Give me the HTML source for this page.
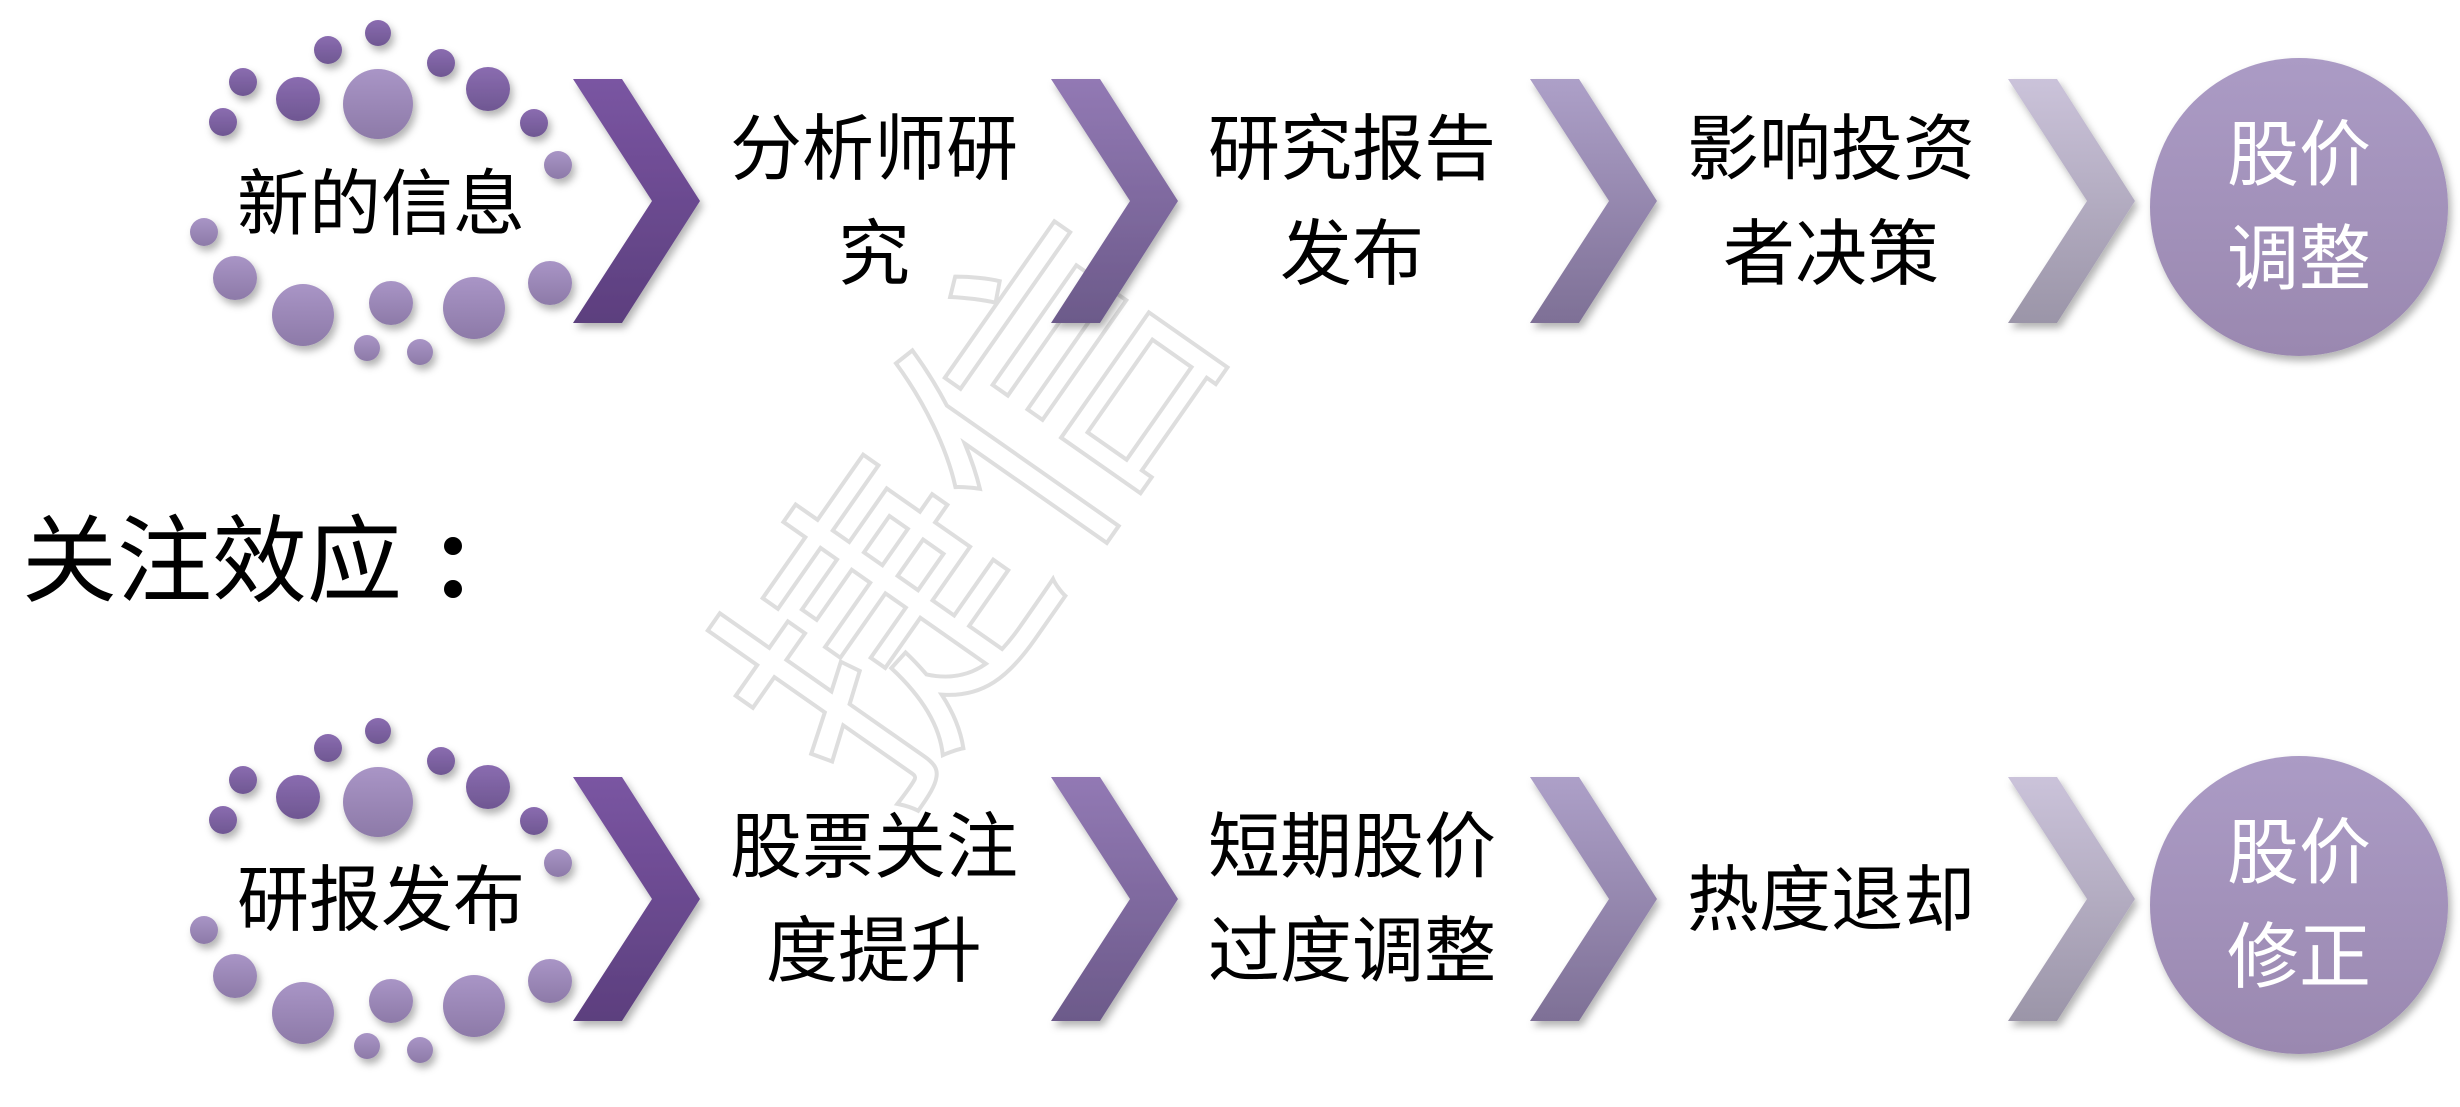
<!DOCTYPE html>
<html><head><meta charset="utf-8"><style>
html,body{margin:0;padding:0;background:#fff;}
svg{display:block}
text{font-family:"Liberation Sans","Noto Sans CJK SC",sans-serif;}
</style></head><body>
<svg width="2460" height="1107" viewBox="0 0 2460 1107" xmlns="http://www.w3.org/2000/svg">
<defs>
<linearGradient id="c1" x1="0" y1="0" x2="0" y2="1"><stop offset="0" stop-color="#7a55a2"/><stop offset="1" stop-color="#5c3f7e"/></linearGradient>
<linearGradient id="c2" x1="0" y1="0" x2="0" y2="1"><stop offset="0" stop-color="#9279b4"/><stop offset="1" stop-color="#6c5a8a"/></linearGradient>
<linearGradient id="c3" x1="0" y1="0" x2="0" y2="1"><stop offset="0" stop-color="#ada0c8"/><stop offset="1" stop-color="#7e7096"/></linearGradient>
<linearGradient id="c4" x1="0" y1="0" x2="0" y2="1"><stop offset="0" stop-color="#cbc3da"/><stop offset="1" stop-color="#9b95a8"/></linearGradient>
<linearGradient id="cc" x1="0" y1="0" x2="0" y2="1"><stop offset="0" stop-color="#ab9bc5"/><stop offset="1" stop-color="#9a88b0"/></linearGradient>
<linearGradient id="dd" x1="0" y1="0" x2="0" y2="1"><stop offset="0" stop-color="#8a6cb0"/><stop offset="1" stop-color="#6f5792"/></linearGradient>
<linearGradient id="dl" x1="0" y1="0" x2="0" y2="1"><stop offset="0" stop-color="#a995c6"/><stop offset="1" stop-color="#8d7aa8"/></linearGradient>
<filter id="sh" x="-20%" y="-20%" width="140%" height="140%"><feDropShadow dx="3" dy="5" stdDeviation="4" flood-color="#000" flood-opacity="0.3"/></filter>
<g id="dots" filter="url(#sh)">
<circle cx="378" cy="33" r="13" fill="url(#dd)"/>
<circle cx="328" cy="50" r="14" fill="url(#dd)"/>
<circle cx="243" cy="82" r="14" fill="url(#dd)"/>
<circle cx="441" cy="63" r="14" fill="url(#dd)"/>
<circle cx="298" cy="99" r="22" fill="url(#dd)"/>
<circle cx="378" cy="104" r="35" fill="url(#dl)"/>
<circle cx="488" cy="89" r="22" fill="url(#dd)"/>
<circle cx="223" cy="122" r="14" fill="url(#dd)"/>
<circle cx="534" cy="123" r="14" fill="url(#dd)"/>
<circle cx="558" cy="165" r="14" fill="url(#dl)"/>
<circle cx="204" cy="232" r="14" fill="url(#dl)"/>
<circle cx="235" cy="278" r="22" fill="url(#dl)"/>
<circle cx="303" cy="315" r="31" fill="url(#dl)"/>
<circle cx="391" cy="303" r="22" fill="url(#dl)"/>
<circle cx="474" cy="308" r="31" fill="url(#dl)"/>
<circle cx="550" cy="283" r="22" fill="url(#dl)"/>
<circle cx="367" cy="348" r="13" fill="url(#dl)"/>
<circle cx="420" cy="352" r="13" fill="url(#dl)"/>
</g>
<path id="chev" d="M0,0 L49,0 L127,122 L49,244 L0,244 L79,122 Z"/>
</defs>

<text x="1000" y="600" font-size="300" text-anchor="middle" fill="none" stroke="#dedede" stroke-width="4" font-family="Noto Serif CJK SC, serif" transform="rotate(-55 1000 530)">捷信</text>

<!-- Row 1 -->
<use href="#dots"/>
<text x="381" y="229" font-size="72" text-anchor="middle" fill="#000">新的信息</text>
<g filter="url(#sh)">
<use href="#chev" x="573" y="79" fill="url(#c1)"/>
<use href="#chev" x="1051" y="79" fill="url(#c2)"/>
<use href="#chev" x="1530" y="79" fill="url(#c3)"/>
<use href="#chev" x="2008" y="79" fill="url(#c4)"/>
<circle cx="2299" cy="207" r="149" fill="url(#cc)"/>
</g>
<g font-size="72" text-anchor="middle" fill="#000">
<text x="874" y="174">分析师研</text><text x="874" y="279">究</text>
<text x="1352" y="174">研究报告</text><text x="1352" y="279">发布</text>
<text x="1831" y="174">影响投资</text><text x="1831" y="279">者决策</text>
</g>
<g font-size="72" text-anchor="middle" fill="#fff">
<text x="2299" y="180">股价</text><text x="2299" y="284">调整</text>
</g>

<text x="22" y="594" font-size="95" fill="#000">关注效应</text>
<circle cx="453" cy="546" r="9" fill="#000"/>
<circle cx="453" cy="589" r="9" fill="#000"/>

<!-- Row 2 -->
<use href="#dots" y="698"/>
<text x="381" y="925" font-size="72" text-anchor="middle" fill="#000">研报发布</text>
<g filter="url(#sh)">
<use href="#chev" x="573" y="777" fill="url(#c1)"/>
<use href="#chev" x="1051" y="777" fill="url(#c2)"/>
<use href="#chev" x="1530" y="777" fill="url(#c3)"/>
<use href="#chev" x="2008" y="777" fill="url(#c4)"/>
<circle cx="2299" cy="905" r="149" fill="url(#cc)"/>
</g>
<g font-size="72" text-anchor="middle" fill="#000">
<text x="874" y="872">股票关注</text><text x="874" y="976">度提升</text>
<text x="1352" y="872">短期股价</text><text x="1352" y="976">过度调整</text>
<text x="1831" y="925">热度退却</text>
</g>
<g font-size="72" text-anchor="middle" fill="#fff">
<text x="2299" y="878">股价</text><text x="2299" y="982">修正</text>
</g>
</svg>
</body></html>
